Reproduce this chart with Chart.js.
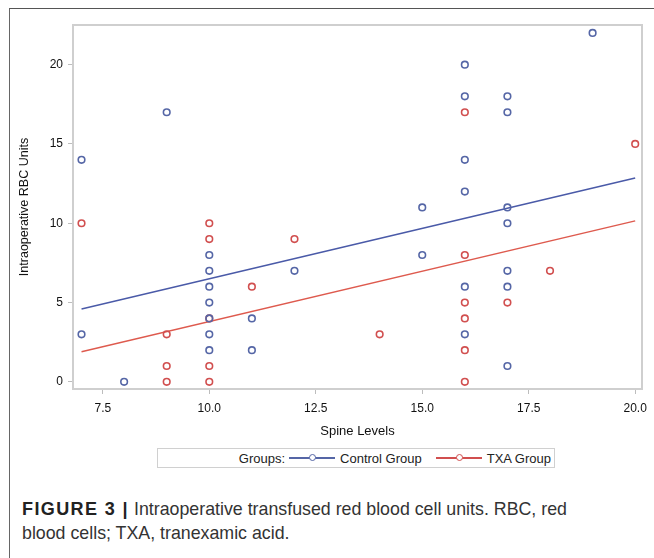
<!DOCTYPE html>
<html lang="en">
<head>
    <meta charset="UTF-8">
    <title>Intraoperative RBC Units</title>
    <script src="https://cdn.jsdelivr.net/npm/chart.js"></script>
    <style>
        body { margin: 0; background: #fff; font-family: "Liberation Sans", Arial, sans-serif; }
        #wrap { position: relative; width: 654px; height: 558px; overflow: hidden; }
        #frame { position: absolute; left: 9px; top: 8px; width: 660px; height: 560px; border-top: 1px solid #555; border-left: 1px solid #666; }
        #chart { position: absolute; left: 0; top: 0; }
        #legend { position: absolute; left: 157px; top: 448px; width: 396px; height: 18px; border: 1px solid #d0d0d0;
                  font-size: 13px; color: #222; display: flex; justify-content: flex-end; align-items: center; }
        .sample { display: inline-block; position: relative; width: 46px; height: 2px; margin: 0 5px 0 4px; }
        .sample i { position: absolute; left: 20px; top: -3px; width: 5px; height: 5px; border-radius: 50%; border: 1px solid; background: #fff; }
        #caption { position: absolute; left: 22px; top: 497px; font-size: 17.8px; line-height: 24px; color: #333; }
        #caption b { font-size: 18px; letter-spacing: 1.4px; color: #222; }
    </style>
</head>
<body>
<div id="wrap">
    <div id="frame"></div>
    <canvas id="chart" width="654" height="445"></canvas>
    <div id="legend">
        <span>Groups:</span>
        <span class="sample" style="background:#5566a6"><i style="border-color:#5566a6"></i></span>
        <span>Control Group</span>
        <span class="sample" style="background:#d14f4f; margin-left: 14px"><i style="border-color:#d14f4f"></i></span>
        <span style="margin-right: 3px">TXA Group</span>
    </div>
    <div id="caption"><b>FIGURE 3 |</b> Intraoperative transfused red blood cell units. RBC, red<br>blood cells; TXA, tranexamic acid.</div>
</div>

<script>
    // Control group: spine levels and RBC units
    const controlLevels = [7, 7, 8, 9, 10, 10, 10, 10, 10, 10, 10, 11, 11, 12, 15, 15, 16, 16, 16, 16, 16, 16, 17, 17, 17, 17, 17, 17, 17, 19];
    const controlUnits  = [14, 3, 0, 17, 8, 7, 6, 5, 4, 3, 2, 4, 2, 7, 11, 8, 20, 18, 14, 12, 6, 3, 18, 17, 11, 10, 7, 6, 1, 22];

    // TXA group
    const txaLevels = [7, 9, 9, 9, 10, 10, 10, 10, 10, 11, 12, 14, 16, 16, 16, 16, 16, 16, 17, 18, 20];
    const txaUnits  = [10, 3, 1, 0, 10, 9, 4, 1, 0, 6, 9, 3, 17, 8, 5, 4, 2, 0, 5, 7, 15];

    // fitted lines, read at both ends of the data range
    const fitLevels = [7, 20];
    const controlFit = [4.6, 12.85];
    const txaFit = [1.9, 10.15];

    const xTicks = [7.5, 10, 12.5, 15, 17.5, 20];
    const yTicks = [0, 5, 10, 15, 20];

    const blue = '#5566a6';
    const red = '#d14f4f';

    const toPoints = (xs, ys) => xs.map((x, i) => ({ x: x, y: ys[i] }));

    const frameBox = {
        id: 'frameBox',
        afterDraw(chart) {
            const a = chart.chartArea;
            const ctx = chart.ctx;
            ctx.save();
            ctx.strokeStyle = '#cfcfcf';
            ctx.lineWidth = 2;
            ctx.strokeRect(a.left, a.top, a.right - a.left, a.bottom - a.top);
            ctx.restore();
        }
    };

    const pointStyle = (color) => ({
        pointStyle: 'circle',
        pointRadius: 3.3,
        pointBorderWidth: 1.6,
        pointBorderColor: color,
        pointBackgroundColor: 'rgba(255,255,255,0)',
        pointHoverRadius: 3.3,
        showLine: false
    });

    new Chart(document.getElementById('chart'), {
        type: 'scatter',
        data: {
            datasets: [
                Object.assign({ label: 'Control Group', data: toPoints(controlLevels, controlUnits) }, pointStyle(blue)),
                Object.assign({ label: 'TXA Group', data: toPoints(txaLevels, txaUnits) }, pointStyle(red)),
                { label: 'Control fit', data: toPoints(fitLevels, controlFit), showLine: true, borderColor: '#4a5aa8', borderWidth: 1.5, pointRadius: 0, fill: false },
                { label: 'TXA fit', data: toPoints(fitLevels, txaFit), showLine: true, borderColor: '#de5a4e', borderWidth: 1.5, pointRadius: 0, fill: false }
            ]
        },
        options: {
            responsive: false,
            animation: false,
            devicePixelRatio: 1,
            layout: { padding: { left: 10, top: 25, right: 11, bottom: 0 } },
            plugins: { legend: { display: false }, tooltip: { enabled: false } },
            scales: {
                x: {
                    type: 'linear',
                    min: 6.8,
                    max: 20.16,
                    afterFit: (axis) => { axis.height = 56; },
                    afterBuildTicks: (axis) => { axis.ticks = xTicks.map(v => ({ value: v })); },
                    border: { display: false },
                    grid: { drawOnChartArea: false, color: '#bdbdbd', tickLength: 5 },
                    ticks: { padding: 7, color: '#111', font: { family: 'Liberation Sans', size: 12 }, maxRotation: 0,
                             callback: (v) => Number(v).toFixed(1) },
                    title: { display: true, text: 'Spine Levels', color: '#111', padding: { top: 0, bottom: 6 },
                             font: { family: 'Liberation Sans', size: 13 } }
                },
                y: {
                    type: 'linear',
                    min: -0.45,
                    max: 22.5,
                    afterFit: (axis) => { axis.width = 63; },
                    afterBuildTicks: (axis) => { axis.ticks = yTicks.map(v => ({ value: v })); },
                    border: { display: false },
                    grid: { drawOnChartArea: false, color: '#bdbdbd', tickLength: 5 },
                    ticks: { padding: 5, color: '#111', font: { family: 'Liberation Sans', size: 12 } },
                    title: { display: true, text: 'Intraoperative RBC Units', color: '#111', padding: { top: 7, bottom: 0 },
                             font: { family: 'Liberation Sans', size: 12.5 } }
                }
            }
        },
        plugins: [frameBox]
    });
</script>
</body>
</html>
